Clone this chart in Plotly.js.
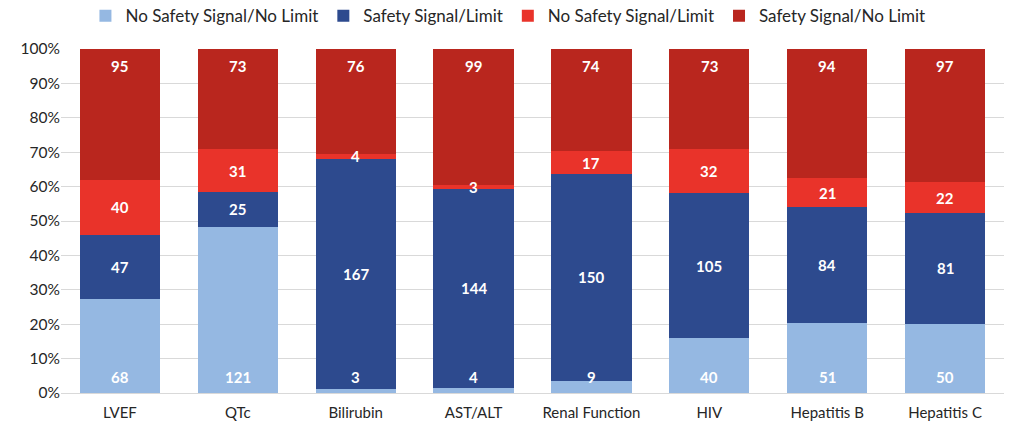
<!DOCTYPE html>
<html>
<head>
<meta charset="utf-8">
<script src="https://cdn.plot.ly/plotly-3.0.1.min.js"></script>
<style>html,body{margin:0;padding:0;background:#fff;}#chart{width:1022px;height:436px;}</style>
</head>
<body>
<div id="chart"></div>
<script>
const categories = ["LVEF", "QTc", "Bilirubin", "AST/ALT", "Renal Function", "HIV", "Hepatitis B", "Hepatitis C"];
const seriesNames = ["No Safety Signal/No Limit", "Safety Signal/Limit", "No Safety Signal/Limit", "Safety Signal/No Limit"];
const noSignalNoLimit = [68, 121, 3, 4, 9, 40, 51, 50];
const signalLimit = [47, 25, 167, 144, 150, 105, 84, 81];
const noSignalLimit = [40, 31, 4, 3, 17, 32, 21, 22];
const signalNoLimit = [95, 73, 76, 99, 74, 73, 94, 97];
const yTicks = [0, 10, 20, 30, 40, 50, 60, 70, 80, 90, 100];

const colors = ["#95b8e2", "#2d4a8e", "#e9332a", "#b9261e"];
const values = [noSignalNoLimit, signalLimit, noSignalLimit, signalNoLimit];
const FONT = "Lato, 'Open Sans', sans-serif";

const traces = values.map((v, i) => ({
  type: "bar",
  name: seriesNames[i],
  x: categories,
  y: v,
  textposition: "none",
  marker: {color: colors[i], line: {width: 0}},
  hoverinfo: "name+y"
}));

// Value labels placed through the axis scales from the data
const annotations = [];
categories.forEach((cat, j) => {
  const total = values.reduce((s, v) => s + v[j], 0);
  let cum = 0;
  values.forEach((v, i) => {
    const lo = cum / total * 100;
    cum += v[j];
    const hi = cum / total * 100;
    const a = {
      x: cat, xref: "x", yref: "y", text: String(v[j]), showarrow: false,
      font: {family: FONT, size: 15, color: "#ffffff", weight: "bold"}
    };
    if (i === 0) { a.y = lo; a.yanchor = "bottom"; a.yshift = 5; }
    else if (i === values.length - 1) { a.y = hi; a.yanchor = "top"; a.yshift = -6; }
    else { a.y = (lo + hi) / 2; a.yanchor = "middle"; }
    annotations.push(a);
  });
});

const layout = {
  width: 1022, height: 436,
  margin: {l: 61, r: 18, t: 49, b: 43, autoexpand: false},
  barmode: "stack",
  barnorm: "percent",
  bargap: 0.32,
  paper_bgcolor: "#ffffff",
  plot_bgcolor: "#ffffff",
  font: {family: FONT, size: 15, color: "#404040"},
  showlegend: true,
  legend: {orientation: "h", xref: "container", yref: "container", x: 0.497, xanchor: "center",
    y: 0.963, yanchor: "middle",
    traceorder: "normal", font: {family: FONT, size: 17, color: "#262626"}, itemwidth: 30},
  annotations: annotations,
  xaxis: {type: "category", showgrid: false, showline: true, linecolor: "#d9d9d9", linewidth: 1,
    ticks: "", ticklabelstandoff: 6, tickfont: {family: FONT, size: 15, color: "#262626"}},
  yaxis: {range: [0, 100], tickvals: yTicks, ticktext: yTicks.map(t => t + "%"),
    showgrid: true, gridcolor: "#d9d9d9", gridwidth: 1, zeroline: false, showline: false,
    ticks: "", tickfont: {family: FONT, size: 15.5, color: "#262626"}}
};

Plotly.newPlot("chart", traces, layout, {displayModeBar: false, staticPlot: true});
</script>
</body>
</html>
